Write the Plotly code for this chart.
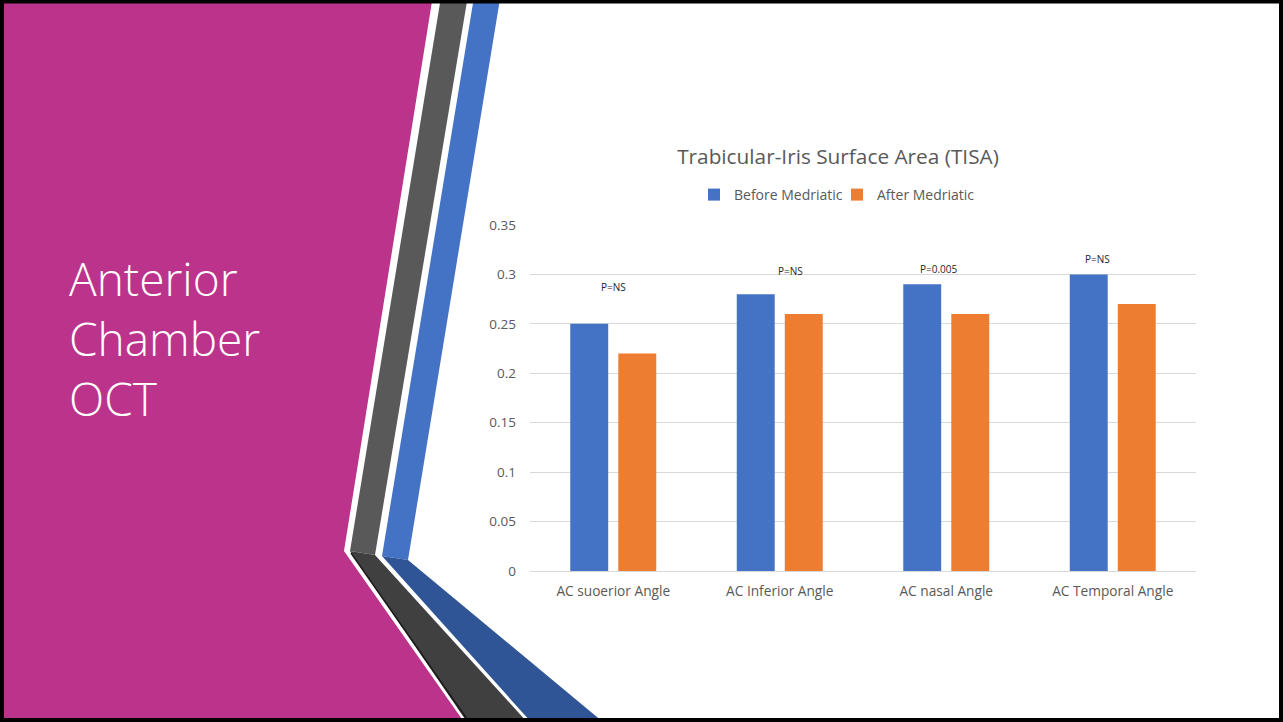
import plotly.graph_objects as go

W, H = 1283, 722

categories = ["AC suoerior Angle", "AC Inferior Angle", "AC nasal Angle", "AC Temporal Angle"]
before_values = [0.25, 0.28, 0.29, 0.30]
after_values = [0.22, 0.26, 0.26, 0.27]
series_names = ["Before Medriatic", "After Medriatic"]
p_labels = ["P=NS", "P=NS", "P=0.005", "P=NS"]
p_label_y = [0.287, 0.303, 0.305, 0.316]
p_label_shift = [0, 11, -7, -15]
y_tick_vals = [0, 0.05, 0.1, 0.15, 0.2, 0.25, 0.3, 0.35]
y_tick_text = ["0", "0.05", "0.1", "0.15", "0.2", "0.25", "0.3", "0.35"]
chart_title = "Trabicular-Iris Surface Area (TISA)"
slide_title = "Anterior<br>Chamber<br>OCT"

BLUE = "#4472C4"
ORANGE = "#ED7D31"
TXT = "#595959"
FONT = "Open Sans"


def px(x):
    return x / W


def py(y):
    return 1 - y / H


def poly(points):
    return "M " + " L ".join(f"{px(x):.5f},{py(y):.5f}" for x, y in points) + " Z"


fig = go.Figure()
fig.add_trace(go.Bar(x=categories, y=before_values, name=series_names[0],
                     marker=dict(color=BLUE, line=dict(width=0))))
fig.add_trace(go.Bar(x=categories, y=after_values, name=series_names[1],
                     marker=dict(color=ORANGE, line=dict(width=0))))

shapes = []
# magenta side panel
shapes.append(dict(type="path", xref="paper", yref="paper", layer="below",
                   path=poly([(0, 0), (432.2, 0), (344, 551), (464, 722), (0, 722)]),
                   fillcolor="#BC338C", line=dict(width=0)))
# gray stripe top part
shapes.append(dict(type="path", xref="paper", yref="paper", layer="below",
                   path=poly([(440.5, 0), (467.2, 0), (375, 555), (350, 551)]),
                   fillcolor="#595959", line=dict(width=0)))
# dark gray lower part
shapes.append(dict(type="path", xref="paper", yref="paper", layer="below",
                   path=poly([(350, 551), (375, 555), (527, 722), (467, 722)]),
                   fillcolor="#404040", line=dict(width=0)))
shapes.append(dict(type="line", xref="paper", yref="paper", layer="below",
                   x0=px(351), y0=py(553), x1=px(469), y1=py(722),
                   line=dict(color="#1a1a1a", width=1.5)))
# blue stripe top part
shapes.append(dict(type="path", xref="paper", yref="paper", layer="below",
                   path=poly([(473.5, 0), (499.8, 0), (408, 560), (382, 556)]),
                   fillcolor=BLUE, line=dict(width=0)))
# dark blue lower part
shapes.append(dict(type="path", xref="paper", yref="paper", layer="below",
                   path=poly([(382, 556), (408, 560), (603, 722), (531, 722)]),
                   fillcolor="#2F5597", line=dict(width=0)))
# slide border
shapes.append(dict(type="rect", xref="paper", yref="paper", layer="above",
                   x0=px(2), x1=px(1281), y0=py(720), y1=py(1.6),
                   line=dict(color="black", width=4), fillcolor="rgba(0,0,0,0)"))

annotations = [
    dict(text=slide_title, xref="paper", yref="paper", x=px(67), y=py(338),
         xanchor="left", yanchor="middle", align="left", showarrow=False,
         font=dict(family=FONT, size=46, color="white", weight=300)),
]
for cat, lab, yv, sh in zip(categories, p_labels, p_label_y, p_label_shift):
    annotations.append(dict(text=lab, x=cat, y=yv, xref="x", yref="y", xshift=sh,
                            showarrow=False, yanchor="middle",
                            font=dict(family=FONT, size=10, color="#262626")))

fig.update_layout(
    width=W,
    margin=dict(l=0, r=0, t=0, b=0, autoexpand=False),
    paper_bgcolor="white", plot_bgcolor="white",
    barmode="group", bargap=0.423, bargroupgap=0.21,
    title=dict(text=chart_title, x=px(838), y=py(157), xanchor="center", yanchor="middle",
               xref="paper", yref="paper",
               font=dict(family=FONT, size=20.8, color=TXT)),
    legend=dict(orientation="h", x=px(837), y=py(195), xanchor="center", yanchor="middle",
                font=dict(family=FONT, size=14, color=TXT), bgcolor="rgba(0,0,0,0)",
                itemwidth=30, entrywidth=98),
    xaxis=dict(domain=[px(530), px(1196)], showgrid=False, showline=True,
               linecolor="#D9D9D9", linewidth=1, ticks="", ticklabelstandoff=8,
               tickfont=dict(family=FONT, size=13.7, color=TXT), fixedrange=True),
    yaxis=dict(domain=[py(571), py(225)], range=[0, 0.35], tickvals=y_tick_vals,
               ticktext=y_tick_text, showgrid=True, gridcolor="#D9D9D9", gridwidth=1,
               zeroline=False, showline=False, ticks="", ticklabelstandoff=13,
               tickfont=dict(family=FONT, size=13.5, color=TXT), fixedrange=True),
    shapes=shapes,
    annotations=annotations,
    font=dict(family=FONT),
)

# pin the plot div to the window's top-left corner so the page is exactly the window size
fig.write_html("out.html", config=dict(displayModeBar=False, responsive=False),
               default_height=f"{H}px; position:fixed; left:0; top:0; margin:0")
